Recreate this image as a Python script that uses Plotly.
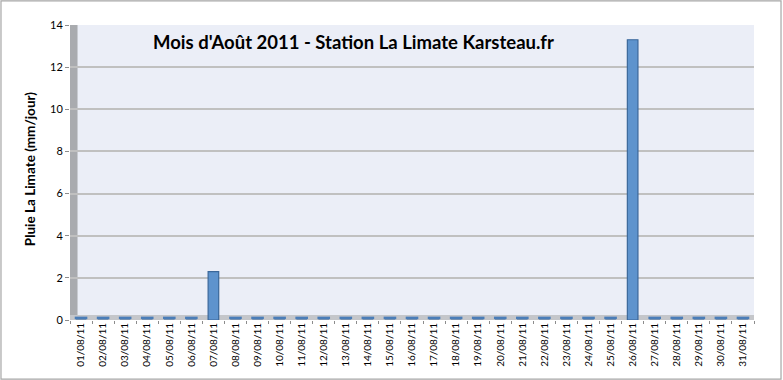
import plotly.graph_objects as go

days = [f"{d:02d}/08/11" for d in range(1, 32)]
rain = [0, 0, 0, 0, 0, 0, 2.3, 0, 0, 0, 0, 0, 0, 0, 0, 0, 0, 0, 0, 0, 0, 0, 0, 0, 0, 13.3, 0, 0, 0, 0, 0]
y_ticks = [0, 2, 4, 6, 8, 10, 12, 14]
title_text = "Mois d'Août 2011 - Station La Limate Karsteau.fr"
y_title = "Pluie La Limate (mm/jour)"

FONT = "Lato, 'Open Sans', Arial, sans-serif"

fig = go.Figure()
fig.add_trace(go.Bar(
    x=days, y=rain,
    marker=dict(color="#5E93CD", line=dict(color="#3A679A", width=1.2)),
    width=0.48,
    showlegend=False,
))
# flat markers for zero-rain days (Excel draws a thin slab)
fig.add_trace(go.Scatter(
    x=days, y=[0.1 if v == 0 else None for v in rain],
    mode="markers",
    marker=dict(symbol="line-ew", size=9, line=dict(color="#4A7DB8", width=2.5)),
    showlegend=False, hoverinfo="skip",
))

fig.update_layout(
    width=783, height=380,
    margin=dict(l=70, r=29, t=25, b=60),
    paper_bgcolor="white",
    plot_bgcolor="#EBEEF7",
    font=dict(family=FONT, color="#000000"),
    annotations=[
        dict(text=f"<b>{title_text}</b>", x=0.414, y=0.985, xref="paper", yref="paper",
             xanchor="center", yanchor="top", showarrow=False,
             font=dict(size=18.5, family=FONT)),
        dict(text=f"<b>{y_title}</b>", x=-0.059, y=0.51, xref="paper", yref="paper",
             textangle=-90, showarrow=False, xanchor="center", yanchor="middle",
             font=dict(size=13.5, family=FONT)),
    ],
    shapes=[
        dict(type="rect", xref="paper", yref="paper",
             x0=-0.1009, x1=1.0395, y0=-0.2007, y1=1.0816,
             line=dict(color="#A6A6A6", width=1.2), fillcolor="rgba(0,0,0,0)", layer="below"),
        dict(type="rect", xref="paper", yref="paper",
             x0=0, x1=0.011, y0=0.0, y1=1.0,
             line=dict(width=0), fillcolor="#A9ABAF", layer="below"),
        dict(type="rect", xref="paper", yref="paper",
             x0=0, x1=1.0, y0=0.0, y1=0.017,
             line=dict(width=0), fillcolor="#C4C6CA", layer="below"),
    ],
)

fig.update_xaxes(
    type="category",
    range=[-0.5, len(days) - 0.5],
    tickangle=-90,
    tickfont=dict(size=10, family=FONT),
    ticks="outside", ticklen=3, tickcolor="#8C8C8C",
    tickson="boundaries",
    showline=False,
    showgrid=False,
    automargin=False,
)
fig.update_yaxes(
    range=[0, 14],
    tickvals=y_ticks,
    tickfont=dict(size=11, family=FONT),
    ticks="outside", ticklen=4, tickcolor="#8C8C8C",
    showline=False,
    showgrid=True, gridcolor="#C0C0C0", gridwidth=1.5,
    zeroline=False,
    automargin=False,
)

fig.write_html(
    "out.html",
    config={"displayModeBar": False},
    post_script="document.body.style.margin='0px';document.body.style.padding='0px';",
)
